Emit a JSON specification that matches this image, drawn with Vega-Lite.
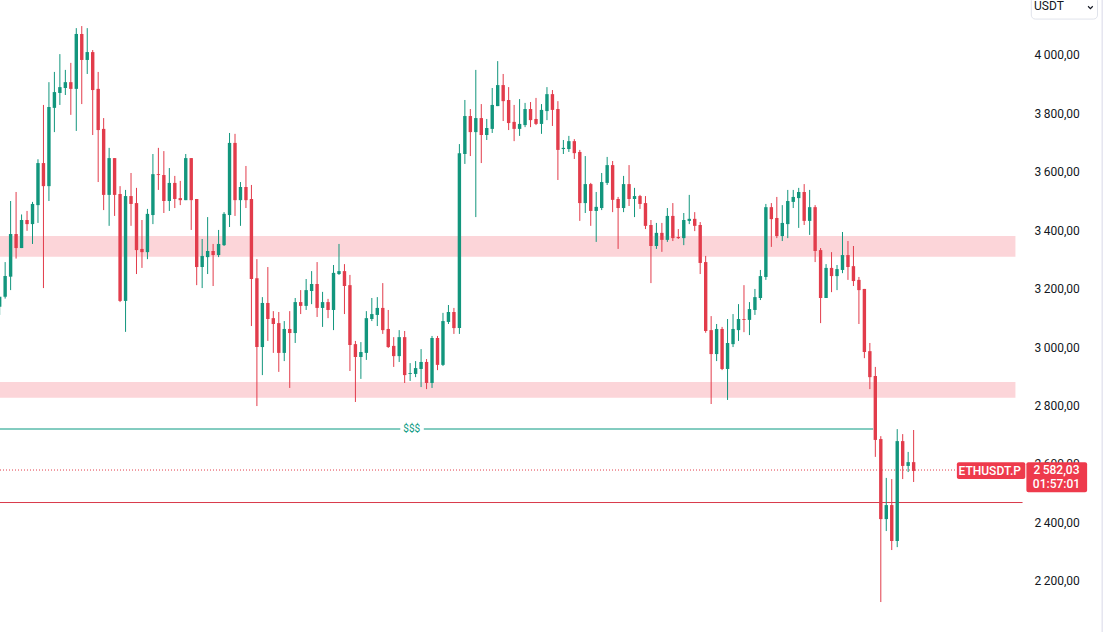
{"$schema":"https://vega.github.io/schema/vega-lite/v6.json","width":1103,"height":632,"padding":0,"autosize":{"type":"none"},"background":"#ffffff","config":{"view":{"stroke":null},"font":"Roboto","scale":{"continuousPadding":0}},
"datasets":{"candles":[
{"i":0,"o":3138,"h":3172,"l":3110,"c":3172},{"i":1,"o":3172,"h":3291,"l":3166,"c":3243},{"i":2,"o":3241,"h":3500,"l":3195,"c":3387},{"i":3,"o":3387,"h":3531,"l":3303,"c":3339},{"i":4,"o":3339,"h":3454,"l":3339,"c":3435},{"i":5,"o":3435,"h":3466,"l":3398,"c":3421},{"i":6,"o":3421,"h":3497,"l":3353,"c":3490},{"i":7,"o":3486,"h":3643,"l":3425,"c":3630},{"i":8,"o":3630,"h":3829,"l":3202,"c":3551},{"i":9,"o":3551,"h":3907,"l":3500,"c":3822},
{"i":10,"o":3819,"h":3942,"l":3736,"c":3873},{"i":11,"o":3870,"h":4003,"l":3829,"c":3890},{"i":12,"o":3887,"h":3949,"l":3863,"c":3907},{"i":13,"o":3907,"h":3973,"l":3795,"c":3884},{"i":14,"o":3884,"h":4092,"l":3740,"c":4072},{"i":15,"o":4072,"h":4099,"l":3832,"c":3983},{"i":16,"o":3983,"h":4092,"l":3935,"c":4010},{"i":17,"o":4010,"h":4017,"l":3726,"c":3880},{"i":18,"o":3884,"h":3942,"l":3565,"c":3743},{"i":19,"o":3747,"h":3784,"l":3469,"c":3521},
{"i":20,"o":3521,"h":3682,"l":3415,"c":3647},{"i":21,"o":3647,"h":3647,"l":3449,"c":3521},{"i":22,"o":3524,"h":3551,"l":3154,"c":3158},{"i":23,"o":3158,"h":3538,"l":3052,"c":3517},{"i":24,"o":3517,"h":3596,"l":3415,"c":3490},{"i":25,"o":3493,"h":3545,"l":3250,"c":3332},{"i":26,"o":3336,"h":3435,"l":3271,"c":3325},{"i":27,"o":3325,"h":3473,"l":3301,"c":3456},{"i":28,"o":3452,"h":3661,"l":3421,"c":3592},{"i":29,"o":3592,"h":3682,"l":3538,"c":3589},
{"i":30,"o":3589,"h":3671,"l":3459,"c":3500},{"i":31,"o":3500,"h":3613,"l":3466,"c":3562},{"i":32,"o":3562,"h":3586,"l":3476,"c":3507},{"i":33,"o":3510,"h":3569,"l":3486,"c":3503},{"i":34,"o":3503,"h":3661,"l":3503,"c":3647},{"i":35,"o":3647,"h":3647,"l":3401,"c":3503},{"i":36,"o":3507,"h":3507,"l":3212,"c":3274},{"i":37,"o":3274,"h":3370,"l":3202,"c":3312},{"i":38,"o":3308,"h":3445,"l":3250,"c":3329},{"i":39,"o":3329,"h":3353,"l":3209,"c":3315},
{"i":40,"o":3315,"h":3401,"l":3308,"c":3353},{"i":41,"o":3349,"h":3462,"l":3346,"c":3456},{"i":42,"o":3452,"h":3733,"l":3411,"c":3699},{"i":43,"o":3699,"h":3730,"l":3449,"c":3503},{"i":44,"o":3503,"h":3565,"l":3415,"c":3548},{"i":45,"o":3548,"h":3620,"l":3476,"c":3503},{"i":46,"o":3507,"h":3555,"l":3072,"c":3233},{"i":47,"o":3236,"h":3301,"l":2798,"c":3000},{"i":48,"o":3000,"h":3171,"l":2904,"c":3151},{"i":49,"o":3151,"h":3274,"l":3021,"c":3096},
{"i":50,"o":3099,"h":3123,"l":2980,"c":3079},{"i":51,"o":3082,"h":3120,"l":2915,"c":2980},{"i":52,"o":2980,"h":3089,"l":2952,"c":3062},{"i":53,"o":3062,"h":3123,"l":2860,"c":3048},{"i":54,"o":3048,"h":3168,"l":3014,"c":3154},{"i":55,"o":3154,"h":3195,"l":3113,"c":3141},{"i":56,"o":3141,"h":3233,"l":3127,"c":3195},{"i":57,"o":3192,"h":3260,"l":3147,"c":3216},{"i":58,"o":3216,"h":3291,"l":3103,"c":3134},{"i":59,"o":3134,"h":3189,"l":3069,"c":3154},
{"i":60,"o":3154,"h":3165,"l":3099,"c":3127},{"i":61,"o":3127,"h":3281,"l":3058,"c":3254},{"i":62,"o":3250,"h":3353,"l":3247,"c":3260},{"i":63,"o":3260,"h":3284,"l":3113,"c":3209},{"i":64,"o":3212,"h":3247,"l":2918,"c":3007},{"i":65,"o":3010,"h":3021,"l":2812,"c":2966},{"i":66,"o":2966,"h":3017,"l":2891,"c":2983},{"i":67,"o":2980,"h":3123,"l":2956,"c":3099},{"i":68,"o":3096,"h":3168,"l":3089,"c":3113},{"i":69,"o":3110,"h":3171,"l":3072,"c":3134},
{"i":70,"o":3134,"h":3219,"l":3045,"c":3058},{"i":71,"o":3062,"h":3127,"l":2997,"c":3000},{"i":72,"o":3004,"h":3034,"l":2932,"c":2969},{"i":73,"o":2969,"h":3058,"l":2949,"c":3034},{"i":74,"o":3034,"h":3055,"l":2877,"c":2904},{"i":75,"o":2908,"h":2945,"l":2884,"c":2911},{"i":76,"o":2908,"h":2952,"l":2897,"c":2928},{"i":77,"o":2925,"h":2993,"l":2863,"c":2949},{"i":78,"o":2949,"h":2959,"l":2856,"c":2877},{"i":79,"o":2877,"h":3038,"l":2860,"c":3031},
{"i":80,"o":3031,"h":3038,"l":2921,"c":2939},{"i":81,"o":2939,"h":3117,"l":2935,"c":3089},{"i":82,"o":3086,"h":3144,"l":3079,"c":3120},{"i":83,"o":3120,"h":3134,"l":3045,"c":3065},{"i":84,"o":3065,"h":3695,"l":3045,"c":3664},{"i":85,"o":3661,"h":3846,"l":3627,"c":3791},{"i":86,"o":3791,"h":3815,"l":3654,"c":3736},{"i":87,"o":3736,"h":3949,"l":3445,"c":3784},{"i":88,"o":3784,"h":3832,"l":3630,"c":3726},{"i":89,"o":3726,"h":3781,"l":3709,"c":3750},
{"i":90,"o":3747,"h":3887,"l":3733,"c":3829},{"i":91,"o":3825,"h":3979,"l":3825,"c":3897},{"i":92,"o":3897,"h":3935,"l":3774,"c":3842},{"i":93,"o":3846,"h":3890,"l":3743,"c":3767},{"i":94,"o":3771,"h":3829,"l":3705,"c":3747},{"i":95,"o":3747,"h":3849,"l":3723,"c":3764},{"i":96,"o":3760,"h":3836,"l":3753,"c":3815},{"i":97,"o":3815,"h":3839,"l":3753,"c":3777},{"i":98,"o":3781,"h":3853,"l":3760,"c":3764},{"i":99,"o":3764,"h":3832,"l":3730,"c":3812},
{"i":100,"o":3808,"h":3890,"l":3777,"c":3866},{"i":101,"o":3866,"h":3880,"l":3757,"c":3812},{"i":102,"o":3815,"h":3842,"l":3572,"c":3675},{"i":103,"o":3678,"h":3709,"l":3661,"c":3682},{"i":104,"o":3678,"h":3723,"l":3668,"c":3705},{"i":105,"o":3705,"h":3712,"l":3644,"c":3664},{"i":106,"o":3668,"h":3675,"l":3432,"c":3493},{"i":107,"o":3493,"h":3654,"l":3459,"c":3558},{"i":108,"o":3558,"h":3562,"l":3415,"c":3466},{"i":109,"o":3466,"h":3531,"l":3360,"c":3480},
{"i":110,"o":3476,"h":3596,"l":3469,"c":3565},{"i":111,"o":3562,"h":3651,"l":3555,"c":3623},{"i":112,"o":3623,"h":3637,"l":3462,"c":3504},{"i":113,"o":3507,"h":3514,"l":3336,"c":3476},{"i":114,"o":3476,"h":3586,"l":3462,"c":3558},{"i":115,"o":3558,"h":3623,"l":3483,"c":3507},{"i":116,"o":3507,"h":3545,"l":3445,"c":3517},{"i":117,"o":3517,"h":3521,"l":3473,"c":3490},{"i":118,"o":3493,"h":3517,"l":3404,"c":3415},{"i":119,"o":3418,"h":3435,"l":3219,"c":3346},
{"i":120,"o":3346,"h":3425,"l":3336,"c":3391},{"i":121,"o":3391,"h":3425,"l":3326,"c":3367},{"i":122,"o":3367,"h":3476,"l":3360,"c":3449},{"i":123,"o":3449,"h":3493,"l":3363,"c":3373},{"i":124,"o":3377,"h":3404,"l":3370,"c":3373},{"i":125,"o":3373,"h":3459,"l":3349,"c":3435},{"i":126,"o":3432,"h":3521,"l":3421,"c":3439},{"i":127,"o":3439,"h":3462,"l":3397,"c":3415},{"i":128,"o":3418,"h":3428,"l":3250,"c":3288},{"i":129,"o":3291,"h":3312,"l":3049,"c":3055},
{"i":130,"o":3058,"h":3106,"l":2805,"c":2976},{"i":131,"o":2976,"h":3079,"l":2952,"c":3062},{"i":132,"o":3062,"h":3069,"l":2921,"c":2925},{"i":133,"o":2925,"h":3096,"l":2819,"c":3014},{"i":134,"o":3010,"h":3113,"l":3000,"c":3062},{"i":135,"o":3058,"h":3147,"l":3021,"c":3096},{"i":136,"o":3096,"h":3212,"l":3051,"c":3093},{"i":137,"o":3093,"h":3154,"l":3041,"c":3130},{"i":138,"o":3127,"h":3199,"l":3110,"c":3171},{"i":139,"o":3168,"h":3264,"l":3161,"c":3243},
{"i":140,"o":3240,"h":3490,"l":3230,"c":3479},{"i":141,"o":3479,"h":3493,"l":3343,"c":3438},{"i":142,"o":3442,"h":3514,"l":3373,"c":3380},{"i":143,"o":3380,"h":3486,"l":3363,"c":3425},{"i":144,"o":3421,"h":3538,"l":3373,"c":3500},{"i":145,"o":3497,"h":3538,"l":3476,"c":3514},{"i":146,"o":3510,"h":3545,"l":3408,"c":3531},{"i":147,"o":3531,"h":3558,"l":3418,"c":3432},{"i":148,"o":3432,"h":3538,"l":3384,"c":3479},{"i":149,"o":3479,"h":3486,"l":3291,"c":3329},
{"i":150,"o":3332,"h":3339,"l":3082,"c":3168},{"i":151,"o":3168,"h":3284,"l":3168,"c":3271},{"i":152,"o":3271,"h":3325,"l":3188,"c":3243},{"i":153,"o":3243,"h":3281,"l":3195,"c":3267},{"i":154,"o":3264,"h":3394,"l":3253,"c":3315},{"i":155,"o":3315,"h":3363,"l":3230,"c":3274},{"i":156,"o":3277,"h":3346,"l":3209,"c":3226},{"i":157,"o":3230,"h":3240,"l":3079,"c":3195},{"i":158,"o":3199,"h":3199,"l":2962,"c":2983},{"i":159,"o":2986,"h":3014,"l":2856,"c":2897},
{"i":160,"o":2901,"h":2932,"l":2624,"c":2682},{"i":161,"o":2685,"h":2695,"l":2127,"c":2411},{"i":162,"o":2411,"h":2552,"l":2370,"c":2459},{"i":163,"o":2459,"h":2548,"l":2305,"c":2336},{"i":164,"o":2336,"h":2719,"l":2315,"c":2678},{"i":165,"o":2678,"h":2702,"l":2548,"c":2593},{"i":166,"o":2593,"h":2641,"l":2572,"c":2606},{"i":167,"o":2606,"h":2716,"l":2538,"c":2576}
]},
"layer":[
{"data":{"values":[{"a":0.06,"b":185.6,"top":3380,"bot":3309},{"a":0.06,"b":185.6,"top":2880,"bot":2826.5}]},"mark":{"type":"rect","color":"#fcd5d9"},
"encoding":{"x":{"field":"a","type":"quantitative","axis":null,"scale":{"domain":[0.06,201.6],"nice":false,"zero":false,"padding":0}},"x2":{"field":"b"},"y":{"field":"top","type":"quantitative","title":null,"scale":{"domain":[2024.4,4188.3],"nice":false,"zero":false},"axis":{"orient":"right","offset":-69,"values":[2200,2400,2600,2800,3000,3200,3400,3600,3800,4000],"grid":false,"domain":false,"ticks":false,"labelPadding":0,"labelAlign":"left","labelFont":"Roboto","labelFontSize":12,"labelColor":"#131722","labelOverlap":false,"labelExpr":"replace(replace(format(datum.value,',.2f'),',','\u2009'),'.',',')"}},"y2":{"field":"bot"}}},
{"data":{"values":[{"a":0.06,"b":73.2,"p":2719.4,"kind":"level"},{"a":77.5,"b":159.6,"p":2719.4,"kind":"level"}]},"mark":{"type":"rule","color":"#089981","strokeWidth":1},
"encoding":{"x":{"field":"a","type":"quantitative","axis":null,"scale":{"domain":[0.06,201.6],"nice":false,"zero":false,"padding":0}},"x2":{"field":"b"},"y":{"field":"p","type":"quantitative","scale":{"domain":[2024.4,4188.3],"nice":false,"zero":false}}}},
{"data":{"values":[{"a":0.06,"b":186.9,"p":2467.7}]},"mark":{"type":"rule","color":"#d9394b","strokeWidth":1},
"encoding":{"x":{"field":"a","type":"quantitative","axis":null,"scale":{"domain":[0.06,201.6],"nice":false,"zero":false,"padding":0}},"x2":{"field":"b"},"y":{"field":"p","type":"quantitative","scale":{"domain":[2024.4,4188.3],"nice":false,"zero":false}}}},
{"data":{"values":[{"a":0.06,"b":174.9,"p":2579}]},"mark":{"type":"rule","color":"#e23c4b","strokeWidth":1,"strokeDash":[1,2]},
"encoding":{"x":{"field":"a","type":"quantitative","axis":null,"scale":{"domain":[0.06,201.6],"nice":false,"zero":false,"padding":0}},"x2":{"field":"b"},"y":{"field":"p","type":"quantitative","scale":{"domain":[2024.4,4188.3],"nice":false,"zero":false}}}},
{"data":{"name":"candles"},"mark":{"type":"rule","strokeWidth":1},
"encoding":{"x":{"field":"i","type":"quantitative","axis":null,"scale":{"domain":[0.06,201.6],"nice":false,"zero":false,"padding":0}},"y":{"field":"l","type":"quantitative","scale":{"domain":[2024.4,4188.3],"nice":false,"zero":false}},"y2":{"field":"h"},"color":{"condition":{"test":"datum.c<datum.o","value":"#e23c4b"},"value":"#12967d"}}},
{"data":{"name":"candles"},"mark":{"type":"bar","size":3.4},
"encoding":{"x":{"field":"i","type":"quantitative","axis":null,"scale":{"domain":[0.06,201.6],"nice":false,"zero":false,"padding":0}},"y":{"field":"o","type":"quantitative","scale":{"domain":[2024.4,4188.3],"nice":false,"zero":false}},"y2":{"field":"c"},"color":{"condition":{"test":"datum.c<datum.o","value":"#e23c4b"},"value":"#12967d"}}},
{"data":{"values":[{"t":"$$$","u":75.3,"p":2719.4}]},"mark":{"type":"text","color":"#089981","fontSize":10,"align":"center","baseline":"middle"},
"encoding":{"x":{"field":"u","type":"quantitative","axis":null,"scale":{"domain":[0.06,201.6],"nice":false,"zero":false,"padding":0}},"y":{"field":"p","type":"quantitative","scale":{"domain":[2024.4,4188.3],"nice":false,"zero":false}},"text":{"field":"t"}}},
{"data":{"values":[{"a":174.9,"b":187.4,"top":2606,"bot":2548},{"a":187.6,"b":198.7,"top":2606,"bot":2503}]},"mark":{"type":"rect","color":"#ee3a4c","cornerRadius":2},
"encoding":{"x":{"field":"a","type":"quantitative","axis":null,"scale":{"domain":[0.06,201.6],"nice":false,"zero":false,"padding":0}},"x2":{"field":"b"},"y":{"field":"top","type":"quantitative","scale":{"domain":[2024.4,4188.3],"nice":false,"zero":false}},"y2":{"field":"bot"}}},
{"data":{"values":[{"t":"ETHUSDT.P","u":180.9,"p":2577},{"t":"2\u2009582,03","u":193.1,"p":2579},{"t":"01:57:01","u":193.1,"p":2530}]},"mark":{"type":"text","color":"#ffffff","fontSize":12,"fontWeight":500,"align":"center","baseline":"middle"},
"encoding":{"x":{"field":"u","type":"quantitative","axis":null,"scale":{"domain":[0.06,201.6],"nice":false,"zero":false,"padding":0}},"y":{"field":"p","type":"quantitative","scale":{"domain":[2024.4,4188.3],"nice":false,"zero":false}},"text":{"field":"t"}}},
{"data":{"values":[{"a":188.5,"b":200.6,"top":4200,"bot":4123}]},"mark":{"type":"rect","fill":"#ffffff","stroke":"#e0e3eb","strokeWidth":1,"cornerRadius":4},
"encoding":{"x":{"field":"a","type":"quantitative","axis":null,"scale":{"domain":[0.06,201.6],"nice":false,"zero":false,"padding":0}},"x2":{"field":"b"},"y":{"field":"top","type":"quantitative","scale":{"domain":[2024.4,4188.3],"nice":false,"zero":false}},"y2":{"field":"bot"}}},
{"data":{"values":[{"t":"USDT","u":189,"p":4167}]},"mark":{"type":"text","color":"#131722","fontSize":12,"align":"left","baseline":"middle"},
"encoding":{"x":{"field":"u","type":"quantitative","axis":null,"scale":{"domain":[0.06,201.6],"nice":false,"zero":false,"padding":0}},"y":{"field":"p","type":"quantitative","scale":{"domain":[2024.4,4188.3],"nice":false,"zero":false}},"text":{"field":"t"}}},
{"data":{"values":[{"u":199.3,"p":4163}]},"mark":{"type":"point","shape":"M-1,-0.5L0,0.5L1,-0.5","filled":false,"size":22,"stroke":"#131722","strokeWidth":1.2,"opacity":1},
"encoding":{"x":{"field":"u","type":"quantitative","axis":null,"scale":{"domain":[0.06,201.6],"nice":false,"zero":false,"padding":0}},"y":{"field":"p","type":"quantitative","scale":{"domain":[2024.4,4188.3],"nice":false,"zero":false}}}},
{"data":{"values":[{"u":201.5}]},"mark":{"type":"rule","color":"#e6e6f0","strokeWidth":2},
"encoding":{"x":{"field":"u","type":"quantitative","axis":null,"scale":{"domain":[0.06,201.6],"nice":false,"zero":false,"padding":0}}}}
]}
